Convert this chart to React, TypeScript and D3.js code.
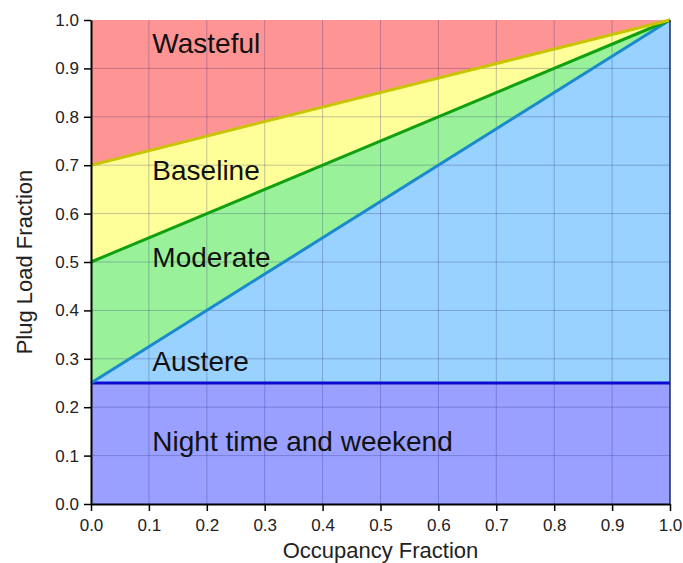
import { useEffect, useRef } from 'react';
import * as d3 from 'd3';

// boundary lines: plug load fraction at occupancy 0 and 1
const lineNames = ['Night', 'Austere', 'Moderate', 'Baseline'];
const startValues = [0.25, 0.25, 0.5, 0.7];
const endValues = [0.25, 1.0, 1.0, 1.0];
const lineColors = ['#0a0ad0', '#1a8ad0', '#10a010', '#c8c400'];

// regions from bottom to top
const regionLabels = ['Night time and weekend', 'Austere', 'Moderate', 'Baseline', 'Wasteful'];
const regionFills = ['#9aa0ff', '#99d2ff', '#99f299', '#ffff99', '#ff9494'];
const labelY = [0.13, 0.295, 0.51, 0.69, 0.953];

const ticks = [0, 0.1, 0.2, 0.3, 0.4, 0.5, 0.6, 0.7, 0.8, 0.9, 1.0];

const FONT = 'Arial, "Liberation Sans", sans-serif';

export default function App() {
  const svgRef = useRef<SVGSVGElement>(null);

  useEffect(() => {
    if (!svgRef.current) return;
    d3.select(svgRef.current).selectAll('*').remove();

    const margin = { top: 20, right: 13, bottom: 59, left: 91 };
    const width = 683;
    const height = 563;
    const innerWidth = width - margin.left - margin.right;
    const innerHeight = height - margin.top - margin.bottom;

    const svg = d3
      .select(svgRef.current)
      .append('g')
      .attr('transform', `translate(${margin.left},${margin.top})`);

    const x = d3.scaleLinear().domain([0, 1]).range([0, innerWidth]);
    const y = d3.scaleLinear().domain([0, 1]).range([innerHeight, 0]);

    // region polygons: between consecutive boundaries
    const lower = [[0, 0], ...lineNames.map((_, i) => [startValues[i], endValues[i]])];
    const upper = [...lineNames.map((_, i) => [startValues[i], endValues[i]]), [1, 1]];

    const area = d3
      .area<{ x: number; y0: number; y1: number }>()
      .x((d) => x(d.x))
      .y0((d) => y(d.y0))
      .y1((d) => y(d.y1));

    regionFills.forEach((fill, i) => {
      const pts = [0, 1].map((k) => ({ x: k, y0: lower[i][k], y1: upper[i][k] }));
      svg.append('path').attr('d', area(pts)).attr('fill', fill);
    });

    // grid
    const grid = svg.append('g');
    ticks.slice(1, -1).forEach((t) => {
      grid
        .append('line')
        .attr('x1', x(t))
        .attr('x2', x(t))
        .attr('y1', 0)
        .attr('y2', innerHeight)
        .attr('stroke', 'rgba(40,40,120,0.28)')
        .attr('stroke-width', 1);
      grid
        .append('line')
        .attr('x1', 0)
        .attr('x2', innerWidth)
        .attr('y1', y(t))
        .attr('y2', y(t))
        .attr('stroke', 'rgba(40,40,120,0.28)')
        .attr('stroke-width', 1);
    });

    // boundary lines
    const line = d3
      .line<[number, number]>()
      .x((d) => x(d[0]))
      .y((d) => y(d[1]));
    lineNames.forEach((_, i) => {
      svg
        .append('path')
        .attr('d', line([[0, startValues[i]], [1, endValues[i]]]))
        .attr('fill', 'none')
        .attr('stroke', lineColors[i])
        .attr('stroke-width', 3);
    });

    // region labels
    regionLabels.forEach((label, i) => {
      svg
        .append('text')
        .attr('x', x(0.106))
        .attr('y', y(labelY[i]))
        .attr('dy', '0.35em')
        .attr('font-family', FONT)
        .attr('font-size', 28)
        .attr('fill', '#111')
        .text(label);
    });

    // axes
    const fmt = (d: d3.NumberValue) => d3.format('.1f')(+d);
    const xAxis = svg
      .append('g')
      .attr('transform', `translate(0,${innerHeight})`)
      .call(d3.axisBottom(x).tickValues(ticks).tickFormat(fmt).tickSize(7).tickSizeOuter(0));
    const yAxis = svg
      .append('g')
      .call(d3.axisLeft(y).tickValues(ticks).tickFormat(fmt).tickSize(7).tickSizeOuter(0));
    [xAxis, yAxis].forEach((a) => {
      a.attr('font-family', FONT).attr('font-size', 17);
      a.select('.domain').attr('stroke', '#000').attr('stroke-width', 2);
      a.selectAll('.tick line').attr('stroke', '#000').attr('stroke-width', 1.5);
      a.selectAll('.tick text').attr('fill', '#222');
    });
    xAxis.selectAll('.tick text').attr('y', 12).attr('dy', '0.9em');
    yAxis.selectAll('.tick text').attr('x', -12);

    // right border
    svg
      .append('line')
      .attr('x1', innerWidth)
      .attr('x2', innerWidth)
      .attr('y1', 0)
      .attr('y2', innerHeight)
      .attr('stroke', '#1a2a60')
      .attr('stroke-width', 1.5);

    // axis titles
    svg
      .append('text')
      .attr('x', innerWidth / 2)
      .attr('y', innerHeight + 54)
      .attr('text-anchor', 'middle')
      .attr('font-family', FONT)
      .attr('font-size', 22)
      .attr('fill', '#222')
      .text('Occupancy Fraction');
    svg
      .append('text')
      .attr('transform', `translate(${-59},${innerHeight / 2}) rotate(-90)`)
      .attr('text-anchor', 'middle')
      .attr('font-family', FONT)
      .attr('font-size', 22)
      .attr('fill', '#222')
      .text('Plug Load Fraction');
  }, []);

  return (
    <div style={{ position: 'fixed', left: 0, top: 0, background: '#fff' }}>
      <svg ref={svgRef} width={683} height={563} style={{ display: 'block' }} />
    </div>
  );
}
